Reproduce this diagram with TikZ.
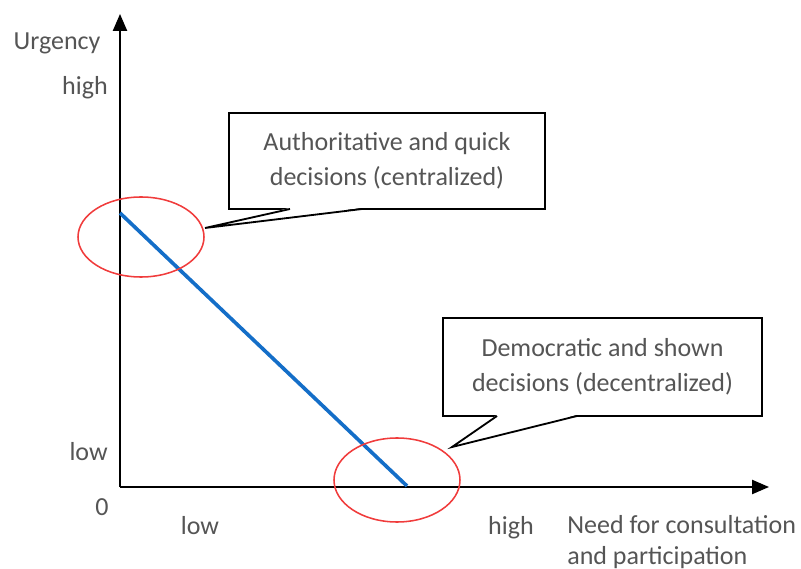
\documentclass[tikz,border=0pt]{standalone}
\usepackage{fontspec}
\setmainfont{Carlito}
\usetikzlibrary{arrows.meta}
\definecolor{labelgray}{RGB}{85,85,85}
\definecolor{lineblue}{RGB}{20,110,200}
\definecolor{ringred}{RGB}{240,60,60}

\begin{document}
\begin{tikzpicture}[
          x=0.025cm, y=-0.025cm,
          label/.style={text=labelgray, font=\fontsize{18.5}{24}\selectfont, inner sep=0pt},
          note/.style={rectangle, draw, line width=1.3pt, fill=white, text=labelgray, minimum width=7.9cm, minimum height=2.4cm, align=center, font=\fontsize{18.5}{25}\selectfont},
          axis/.style={-{Triangle[length=12pt, width=10pt]}, line width=1.3pt},
          pointer/.style={draw, line width=1.3pt, line join=miter}
        ]
          \useasboundingbox (0,0) rectangle (801,569);

          % Axes
          \coordinate (origin) at (120,487);
          \coordinate (ytop) at (120,14);
          \coordinate (xend) at (769,487);
          \draw[axis] (origin) -- (ytop);
          \draw[axis] (origin) -- (xend);

          % Axis labels
          \node[label] (urgency) at (57,43) {Urgency};
          \node[label, anchor=east] (yhigh) at (108,88) {high};
          \node[label, anchor=east] (ylow) at (108,452) {low};
          \node[label] (zero) at (102,507) {0};
          \node[label] (xlow) at (200,526) {low};
          \node[label] (xhigh) at (511,528) {high};
          \node[label, anchor=west, align=left, font=\fontsize{18.5}{22}\selectfont] (need) at (567,542) {Need for consultation\\and participation};

          % Decision line
          \coordinate (start) at (120,213);
          \coordinate (stop) at (407,486);
          \draw[lineblue, line width=2.6pt] (start) -- (stop);

          % Red rings
          \draw[ringred, line width=1.1pt] (141,237) ellipse (63 and 40);
          \draw[ringred, line width=1.1pt] (397,480) ellipse (63 and 42);

          % Callout boxes
          \node[note] (central) at (387,161) {Authoritative and quick\\decisions (centralized)};
          \node[note, minimum width=7.975cm, minimum height=2.45cm] (decentral) at (602.5,367) {Democratic and shown\\decisions (decentralized)};

          % Pointers
          \coordinate (tipA) at (205,228);
          \coordinate (tipB) at (452,447);
          \fill[white] (290,207.9) -- (tipA) -- (362,207.9) -- cycle;
          \draw[pointer] (290,209) -- (tipA) -- (362,209);
          \fill[white] (497,414.9) -- (tipB) -- (577,414.9) -- cycle;
          \draw[pointer] (497,416) -- (tipB) -- (577,416);
      \end{tikzpicture}
\end{document}
